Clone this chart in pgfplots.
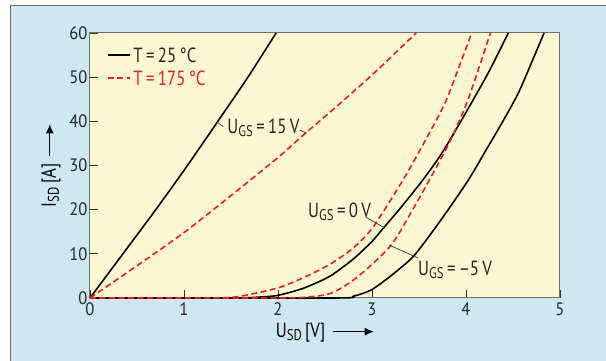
\documentclass[border=0pt]{standalone}
\usepackage{pgfplots}
\pgfplotsset{compat=1.18}
\usetikzlibrary{arrows.meta}
\usepackage{fontspec}
\setmainfont{PT Sans}[FakeStretch=0.82, WordSpace=0.75]
\newfontfamily\tickfont{PT Sans}[FakeStretch=0.92]
\definecolor{panelblue}{RGB}{205,232,241}
\definecolor{plotyellow}{RGB}{251,247,208}
\definecolor{cred}{RGB}{237,28,36}
\definecolor{frame}{RGB}{110,110,110}
\newcommand\sub[1]{\raisebox{-0.3ex}{\fontsize{15.5}{15.5}\selectfont #1}}
\newcommand\lab{\fontsize{20.5}{20.5}\selectfont}
\begin{document}
\begin{tikzpicture}
\useasboundingbox (0pt,0pt) rectangle (606pt,361pt);
\fill[panelblue] (10pt,0pt) rectangle (606pt,355pt);
\draw[frame,line width=1pt] (10pt,0pt)--(10pt,355pt)--(606pt,355pt);
\begin{axis}[
  at={(90pt,63pt)}, anchor=south west,
  scale only axis, width=470pt, height=265pt,
  xmin=0, xmax=5, ymin=0, ymax=60,
  xtick={0,1,2,3,4,5}, ytick={0,10,20,30,40,50,60},
  tick pos=left, tick align=inside, major tick length=8pt,
  tick style={black!80, line width=0.9pt},
  axis line style={frame, line width=1pt},
  axis background/.style={fill=plotyellow},
  /pgf/number format/assume math mode=true,
  ticklabel style={font=\tickfont\fontsize{18}{18}\selectfont, text=black!85},
  xticklabel style={yshift=-1pt},
  yticklabel style={xshift=1pt},
  clip=false,
  every axis x label/.style={at={(axis description cs:0.5,-0.132)},anchor=center},
  every axis y label/.style={at={(axis description cs:-0.083,0.5)},rotate=90,anchor=center},
  xlabel={\lab U\sub{SD} [V]\hspace{7pt}\tikz[baseline=-0.6ex]\draw[line width=0.9pt,-{Latex[length=9pt,width=8pt]}] (0,0)--(41pt,0);},
  ylabel={\lab I\sub{SD} [A]\hspace{7pt}\tikz[baseline=-0.6ex]\draw[line width=0.9pt,-{Latex[length=9pt,width=8pt]}] (0,0)--(32pt,0);},
]
% 25 C, U_GS = 15 V
\addplot[black, line width=1.6pt, smooth, tension=0.4] coordinates {
(0,0) (0.35,10) (0.70,20) (1.03,29.8) (1.36,40) (1.68,50) (1.98,60)};
% 175 C, U_GS = 15 V
\addplot[cred, line width=1.6pt, dash pattern=on 6pt off 3.5pt, smooth, tension=0.4] coordinates {
(0,0) (0.5,7.3) (1.0,14.8) (1.5,23.2) (2.0,31.8) (2.27,36.9) (2.62,43.3) (2.98,50.1) (3.2,54.5) (3.47,60)};
% 25 C, U_GS = 0 V
\addplot[black, line width=1.6pt, smooth, tension=0.4] coordinates {
(0,0) (1.5,0) (1.8,0.2) (2.0,0.6) (2.27,2.2) (2.55,4.9) (2.8,8.8) (3.0,12.8) (3.12,15.8) (3.3,20.3) (3.54,26.7) (3.75,33) (4.04,43.5) (4.25,51.5) (4.45,60)};
% 175 C, U_GS = 0 V
\addplot[cred, line width=1.6pt, dash pattern=on 6pt off 3.5pt, smooth, tension=0.4] coordinates {
(0,0) (1.3,0) (1.6,0.4) (2.0,2.3) (2.27,4.6) (2.55,7.6) (2.8,11.3) (3.01,16) (3.33,26.7) (3.55,35) (3.79,44.8) (4.06,60)};
% 25 C, U_GS = -5 V
\addplot[black, line width=1.6pt, smooth, tension=0.4] coordinates {
(0,0) (2.6,0) (2.8,0.4) (2.99,1.8) (3.2,5.0) (3.44,9.4) (3.67,15.8) (3.85,21.2) (4.04,27.2) (4.20,33) (4.40,40.3) (4.57,47) (4.83,60)};
% 175 C, U_GS = -5 V
\addplot[cred, line width=1.6pt, dash pattern=on 6pt off 3.5pt, smooth, tension=0.4] coordinates {
(0,0) (2.0,0) (2.3,0.2) (2.5,0.7) (2.62,1.6) (2.8,4.0) (3.01,7.8) (3.19,11.6) (3.32,15.8) (3.61,26.7) (3.83,35.5) (4.02,44.8) (4.26,60)};
% legend
\draw[black, line width=1.6pt] (axis cs:0.191,55) -- (axis cs:0.43,55);
\node[anchor=west, inner sep=0pt, text=black!85] at (axis cs:0.46,55) {\lab T = 25 °C};
\draw[cred, line width=1.6pt, dash pattern=on 6pt off 3.5pt] (axis cs:0.191,49.8) -- (axis cs:0.43,49.8);
\node[anchor=west, inner sep=0pt, text=cred] at (axis cs:0.46,49.8) {\lab T = 175 °C};
% annotations
\draw[black!80, line width=0.7pt] (axis cs:1.348,39.9) -- (axis cs:1.418,38.8);
\node[anchor=west, inner sep=0pt, text=black!85] at (axis cs:1.46,38.5) {\lab U\sub{GS} = 15 V};
\draw[black!80, line width=0.7pt] (axis cs:2.234,38.0) -- (axis cs:2.305,37.3);
\node[anchor=west, inner sep=0pt, text=black!85] at (axis cs:2.319,19.5) {\lab U\sub{GS} = 0 V};
\draw[black!80, line width=0.7pt] (axis cs:2.936,18.3) -- (axis cs:3.138,15.8);
\node[anchor=west, inner sep=0pt, text=black!85] at (axis cs:3.489,6.3) {\lab U\sub{GS} = --5 V};
\draw[black!80, line width=0.7pt] (axis cs:3.181,12.0) -- (axis cs:3.489,9.06);
\end{axis}
\end{tikzpicture}
\end{document}
